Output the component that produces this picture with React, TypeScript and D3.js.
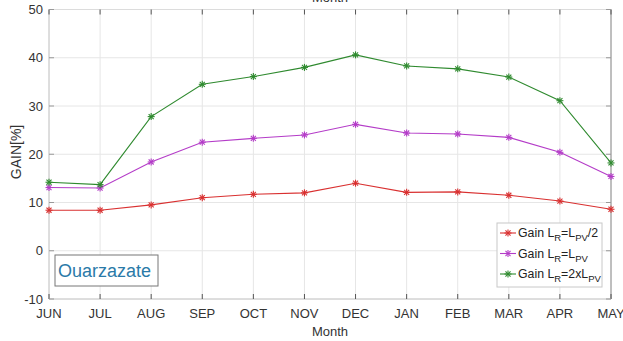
import React from "react";
import * as d3 from "d3";

const months = ["JUN", "JUL", "AUG", "SEP", "OCT", "NOV", "DEC", "JAN", "FEB", "MAR", "APR", "MAY"];
const gainHalf = [8.4, 8.4, 9.5, 11.0, 11.7, 12.0, 14.0, 12.1, 12.2, 11.5, 10.3, 8.6];
const gainEqual = [13.1, 13.0, 18.4, 22.5, 23.3, 24.0, 26.2, 24.4, 24.2, 23.5, 20.4, 15.4];
const gainDouble = [14.2, 13.7, 27.8, 34.5, 36.1, 38.0, 40.6, 38.3, 37.7, 36.0, 31.1, 18.2];
const yTicks = [-10, 0, 10, 20, 30, 40, 50];

const W = 623, H = 341;
const left = 49, right = 611, top = 9.5, bottom = 299;
const font = "Liberation Sans, Arial, sans-serif";

const series = [
  { values: gainHalf, color: "#d93030", sub: ["R", "PV"], pre: "=L", post: "/2" },
  { values: gainEqual, color: "#b43cc8", sub: ["R", "PV"], pre: "=L", post: "" },
  { values: gainDouble, color: "#2f8a2f", sub: ["R", "PV"], pre: "=2xL", post: "" },
];

function Star({ x, y, color }: { x: number; y: number; color: string }) {
  const r = 3.5;
  const d = r * 0.72;
  return (
    <g stroke={color} strokeWidth={1.1}>
      <line x1={x - r} y1={y} x2={x + r} y2={y} />
      <line x1={x} y1={y - r} x2={x} y2={y + r} />
      <line x1={x - d} y1={y - d} x2={x + d} y2={y + d} />
      <line x1={x - d} y1={y + d} x2={x + d} y2={y - d} />
    </g>
  );
}

export default function App() {
  const x = d3.scalePoint<string>().domain(months).range([left, right]);
  const y = d3.scaleLinear().domain([-10, 50]).range([bottom, top]);
  const line = d3
    .line<number>()
    .x((_, i) => x(months[i])!)
    .y((v) => y(v));

  const legX = 497, legY = 223, legW = 105, legH = 64;

  return (
    <svg
      width={W}
      height={H}
      style={{ position: "absolute", left: 0, top: 0, background: "#fff" }}
      fontFamily={font}
    >
      <rect x={0} y={0} width={W} height={H} fill="#fff" />
      {/* grid */}
      {months.map((m) => (
        <line key={m} x1={x(m)} x2={x(m)} y1={top} y2={bottom} stroke="#e6e6e6" strokeWidth={1} />
      ))}
      {yTicks.map((t) => (
        <line key={t} x1={left} x2={right} y1={y(t)} y2={y(t)} stroke="#e6e6e6" strokeWidth={1} />
      ))}
      {/* axes box */}
      <line x1={left} x2={right} y1={top} y2={top} stroke="#dcdcdc" />
      <line x1={left} x2={left} y1={top} y2={bottom} stroke="#c8c8c8" />
      <line x1={right} x2={right} y1={top} y2={bottom} stroke="#8a8a8a" />
      <line x1={left} x2={right} y1={bottom} y2={bottom} stroke="#c8c8c8" />
      {/* ticks */}
      {months.map((m) => (
        <g key={"t" + m}>
          <line x1={x(m)} x2={x(m)} y1={bottom} y2={bottom - 5} stroke="#555" />
          <line x1={x(m)} x2={x(m)} y1={top} y2={top + 5} stroke="#555" />
        </g>
      ))}
      {yTicks.map((t) => (
        <g key={"ty" + t}>
          <line x1={left} x2={left + 5} y1={y(t)} y2={y(t)} stroke="#999" />
          <line x1={right} x2={right - 5} y1={y(t)} y2={y(t)} stroke="#999" />
        </g>
      ))}
      {/* tick labels */}
      {yTicks.map((t) => (
        <text key={"yl" + t} x={43} y={y(t)} dy="0.35em" textAnchor="end" fontSize={13} fill="#333">
          {t}
        </text>
      ))}
      {months.map((m) => (
        <text key={"xl" + m} x={x(m)} y={318} textAnchor="middle" fontSize={13} fill="#333">
          {m}
        </text>
      ))}
      <text x={330} y={336} textAnchor="middle" fontSize={13} fill="#333">Month</text>
      <text x={330} y={2} textAnchor="middle" fontSize={13} fill="#333">Month</text>
      <text
        transform={`translate(21,152) rotate(-90)`}
        textAnchor="middle"
        fontSize={14}
        fill="#333"
      >
        GAIN[%]
      </text>
      {/* series */}
      {series.map((s, si) => (
        <g key={"s" + si}>
          <path d={line(s.values)!} fill="none" stroke={s.color} strokeWidth={1.1} />
          {s.values.map((v, i) => (
            <Star key={i} x={x(months[i])!} y={y(v)} color={s.color} />
          ))}
        </g>
      ))}
      {/* Ouarzazate box */}
      <rect x={55} y={255} width={103} height={31} fill="#fff" stroke="#777" strokeWidth={1} />
      <text x={58} y={277} fontSize={18} fill="#2a7aa8">Ouarzazate</text>
      {/* legend */}
      <rect x={legX} y={legY} width={legW} height={legH} fill="#fff" stroke="#c8c8c8" />
      {series.map((s, i) => {
        const ly = legY + 10 + i * 20.5;
        return (
          <g key={"lg" + i}>
            <line x1={legX + 3} x2={legX + 19} y1={ly} y2={ly} stroke={s.color} strokeWidth={1.1} />
            <Star x={legX + 11} y={ly} color={s.color} />
            <text x={legX + 21} y={ly + 4} fontSize={12.3} fill="#222">
              <tspan>Gain L</tspan>
              <tspan fontSize={9.5} dy={4}>{s.sub[0]}</tspan>
              <tspan dy={-4}>{s.pre}</tspan>
              <tspan fontSize={9.5} dy={4}>{s.sub[1]}</tspan>
              {s.post ? <tspan dy={-4}>{s.post}</tspan> : null}
            </text>
          </g>
        );
      })}
    </svg>
  );
}
